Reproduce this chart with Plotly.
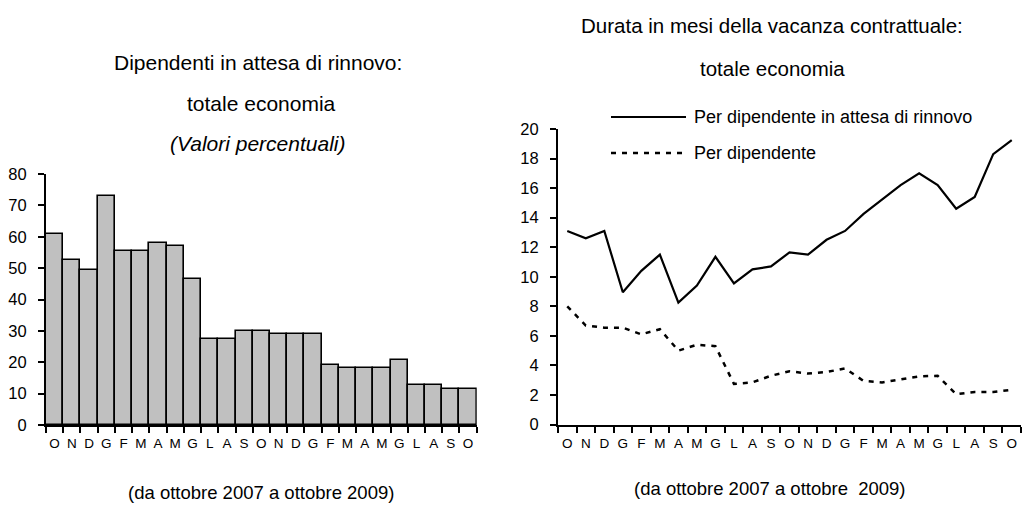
import plotly.graph_objects as go

W, H = 1022, 507

months = ["O", "N", "D", "G", "F", "M", "A", "M", "G", "L", "A", "S",
          "O", "N", "D", "G", "F", "M", "A", "M", "G", "L", "A", "S", "O"]

share_waiting = [61, 52.5, 49.5, 73, 55.5, 55.5, 58, 57, 46.5, 27.5, 27.5, 30,
                 30, 29, 29, 29, 19, 18.3, 18.3, 18.3, 20.7, 12.8, 12.8, 11.5, 11.5]

months_waiting = [13.1, 12.6, 13.1, 8.95, 10.4, 11.5, 8.25, 9.4, 11.35, 9.55, 10.5, 10.7,
                  11.65, 11.5, 12.5, 13.1, 14.25, 15.2, 16.2, 17.0, 16.2, 14.6, 15.4, 18.3, 19.25]

months_all = [8.0, 6.7, 6.55, 6.55, 6.1, 6.45, 5.0, 5.4, 5.3, 2.75, 2.85, 3.3,
              3.6, 3.45, 3.55, 3.8, 2.95, 2.85, 3.05, 3.25, 3.3, 2.05, 2.2, 2.2, 2.35]

TEXTFONT = "Liberation Sans, Arial, sans-serif"
ARIAL = "Liberation Sans, Arial, sans-serif"

def px(x):
    return x / W

def py(y):
    return 1 - y / H

idx = list(range(len(months)))
xrange_cat = [-0.5, len(months) - 0.5]

fig = go.Figure()
fig.add_trace(go.Bar(
    x=idx, y=share_waiting, xaxis="x", yaxis="y",
    marker=dict(color="#C0C0C0", line=dict(color="black", width=1.6)),
    showlegend=False, hoverinfo="skip"))
fig.add_trace(go.Scatter(
    x=idx, y=months_waiting, xaxis="x2", yaxis="y2", mode="lines",
    line=dict(color="black", width=2.2), showlegend=False))
fig.add_trace(go.Scatter(
    x=idx, y=months_all, xaxis="x2", yaxis="y2", mode="lines",
    line=dict(color="black", width=2.5, dash="5px,6px"), showlegend=False))

xcommon = dict(type="category", tickmode="array", tickvals=idx, ticktext=months,
               range=xrange_cat,
               tickson="boundaries", ticks="outside", ticklen=6, tickwidth=1.5,
               tickcolor="black", showline=True, linecolor="black", linewidth=2,
               showgrid=False, zeroline=False, fixedrange=True, tickangle=0,
               automargin=False,
               tickfont=dict(family=ARIAL, size=13.5, color="black"),
               ticklabelstandoff=5)
ycommon = dict(ticks="outside", ticklen=6, tickwidth=1.5, tickcolor="black",
               showline=True, linecolor="black", linewidth=2, showgrid=False,
               zeroline=False, fixedrange=True, automargin=False,
               tickfont=dict(family=ARIAL, size=16.5, color="black"),
               ticklabelstandoff=8)

fig.update_layout(
    width=W, height=H, margin=dict(l=0, r=0, t=0, b=0, autoexpand=False),
    paper_bgcolor="white", plot_bgcolor="white", bargap=0,
    xaxis=dict(domain=[px(46), px(476.7)], anchor="y", **xcommon),
    yaxis=dict(domain=[py(425), py(174)], anchor="x", range=[0, 80],
               tickvals=list(range(0, 81, 10)), **ycommon),
    xaxis2=dict(domain=[px(558), px(1021)], anchor="y2", **xcommon),
    yaxis2=dict(domain=[py(424.5), py(129)], anchor="x2", range=[0, 20],
                tickvals=list(range(0, 21, 2)), **ycommon),
)

ann = [
    ("Dipendenti in attesa di rinnovo:", 258, 63, 21),
    ("totale economia", 261, 103, 21),
    ("<i>(Valori percentuali)</i>", 257, 143, 21),
    ("(da ottobre 2007 a ottobre 2009)", 261, 492, 18.5),
    ("Durata in mesi della vacanza contrattuale:", 772, 25, 20.5),
    ("totale economia", 772, 68, 20.5),
    ("(da ottobre 2007 a ottobre  2009)", 770, 488, 18.5),
]
for text, x, y, size in ann:
    fig.add_annotation(text=text, x=px(x), y=py(y), xref="paper", yref="paper",
                       xanchor="center", yanchor="middle", showarrow=False,
                       font=dict(family=TEXTFONT, size=size, color="black"))

legend_items = [("Per dipendente in attesa di rinnovo", 117, None, 2.2),
                ("Per dipendente", 153, "5px,6px", 2.5)]
for text, y, dash, w in legend_items:
    fig.add_shape(type="line", xref="paper", yref="paper",
                  x0=px(611), x1=px(686), y0=py(y), y1=py(y),
                  line=dict(color="black", width=w, dash=dash if dash else "solid"))
    fig.add_annotation(text=text, x=px(692), y=py(y), xref="paper", yref="paper",
                       xanchor="left", yanchor="middle", showarrow=False,
                       font=dict(family=TEXTFONT, size=18, color="black"))

fig.write_html("out.html", config={"displayModeBar": False},
               post_script="document.body.style.margin='0px';document.body.style.overflow='hidden';")
